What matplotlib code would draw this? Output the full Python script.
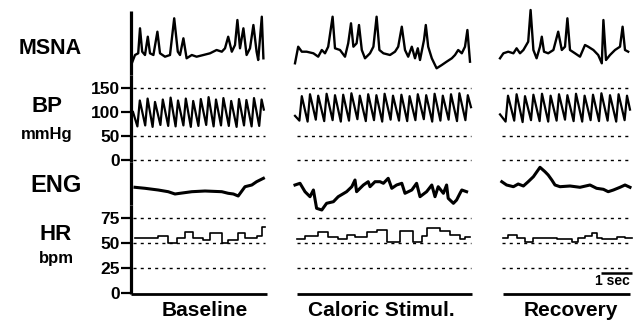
import matplotlib
matplotlib.use('Agg')
import matplotlib.pyplot as plt

plt.rcParams['font.family'] = ['Liberation Sans', 'DejaVu Sans']
plt.rcParams['font.weight'] = 'bold'

# ---------------- data (time in s) ----------------
panel_names = ['Baseline', 'Caloric Stimul.', 'Recovery']
panel_start = [0.05, 4.15, 9.275]
panel_end = [3.35, 8.50, 12.525]
axis_line_start = [0.0, 4.15, 9.30]
axis_line_end = [3.40, 8.525, 12.475]

bp_ticks = [0, 50, 100, 150]
bp_dotted = [0, 50, 150]
hr_ticks = [0, 25, 50, 75]
hr_dotted = [25, 50, 75]

# MSNA (arbitrary units)
msna_base_t = [0.02, 0.10, 0.18, 0.225, 0.28, 0.35, 0.42, 0.475, 0.56, 0.66, 0.725, 0.85, 0.975,
               1.08, 1.17, 1.225, 1.31, 1.39, 1.52, 1.64, 1.81, 1.975, 2.14, 2.27, 2.35, 2.43,
               2.52, 2.60, 2.66, 2.725, 2.81, 2.89, 2.975, 3.06, 3.14, 3.18, 3.27, 3.31]
msna_base_v = [11.7, 20, 21.7, 46.7, 23.3, 20, 38.3, 21.7, 20, 43.3, 21.7, 18.3, 20,
               56.7, 23.3, 20, 36.7, 16.7, 20, 18.3, 20, 21.7, 25, 23.3, 26.7, 38.3,
               23.3, 30, 55, 26.7, 46.7, 20, 26.7, 50, 23.3, 15, 58.3, 16.7]
msna_cal_t = [4.10, 4.18, 4.27, 4.39, 4.56, 4.68, 4.77, 4.85, 4.93, 5.04, 5.10, 5.225, 5.35,
              5.43, 5.50, 5.56, 5.64, 5.70, 5.77, 5.85, 5.975, 6.06, 6.14, 6.21, 6.31, 6.475,
              6.60, 6.68, 6.77, 6.85, 6.93, 7.02, 7.10, 7.17, 7.225, 7.325, 7.37, 7.43, 7.52,
              7.64, 7.77, 7.89, 8.02, 8.10, 8.18, 8.27, 8.35, 8.41, 8.475]
msna_cal_v = [11.7, 28.3, 23.3, 23.3, 21.7, 18.3, 25, 21.7, 28.3, 58.3, 26.7, 25, 18.3,
              31.7, 51.7, 28.3, 31.7, 50, 25, 16.7, 21.7, 28.3, 58.3, 25, 21.7, 20,
              23.3, 28.3, 48.3, 25, 18.3, 28.3, 16.7, 26.7, 15, 35, 50, 28.3, 16.7,
              6.7, 10, 13.3, 16.7, 20, 25, 21.7, 28.3, 45, 13.3]
msna_rec_t = [9.225, 9.31, 9.43, 9.56, 9.64, 9.725, 9.81, 9.93, 9.99, 10.06, 10.14, 10.225,
              10.27, 10.325, 10.43, 10.56, 10.68, 10.77, 10.85, 10.91, 10.975, 11.10, 11.225,
              11.35, 11.43, 11.56, 11.68, 11.77, 11.81, 11.875, 11.975, 12.10, 12.225, 12.29,
              12.35, 12.43]
msna_rec_v = [16.7, 21.7, 23.3, 21.7, 26.7, 21.7, 25, 33.3, 65, 25, 16.7, 28.3,
              38.3, 23.3, 21.7, 25, 43.3, 25, 28.3, 56.7, 25, 21.7, 18.3,
              30, 28.3, 25, 20, 11.7, 55, 15, 20, 25, 28.3, 48.3,
              25, 23.3]

# BP (mmHg): systolic peak times, systolic and diastolic values per beat
bp_base_pk_t = [0.22, 0.415, 0.60, 0.795, 0.99, 1.175, 1.37, 1.555, 1.745, 1.94, 2.125, 2.31,
                2.505, 2.70, 2.885, 3.075, 3.265]
bp_base_sys = [124, 128, 121, 126, 130, 124, 128, 123, 127, 131, 126, 129, 123, 127, 125, 129, 126]
bp_base_dia = [70, 72, 69, 73, 71, 70, 72, 69, 71, 73, 70, 72, 71, 69, 72, 70, 71]
bp_cal_pk_t = [4.27, 4.475, 4.68, 4.89, 5.10, 5.305, 5.51, 5.72, 5.93, 6.135, 6.34, 6.55, 6.76,
               6.965, 7.17, 7.38, 7.59, 7.795, 8.00, 8.21, 8.42]
bp_cal_sys = [133, 137, 134, 138, 135, 136, 139, 134, 137, 135, 138, 134, 136, 133, 137, 135,
              138, 134, 137, 139, 135]
bp_cal_dia = [82, 80, 84, 81, 83, 80, 82, 85, 81, 83, 80, 84, 82, 81, 83, 85, 80, 82, 84, 81, 83]
bp_rec_pk_t = [9.425, 9.64, 9.85, 10.06, 10.275, 10.49, 10.70, 10.91, 11.125, 11.34, 11.55,
               11.76, 11.975, 12.19, 12.40]
bp_rec_sys = [134, 137, 133, 136, 138, 134, 137, 135, 138, 134, 136, 139, 135, 137, 134]
bp_rec_dia = [80, 82, 79, 83, 81, 80, 82, 84, 81, 80, 83, 81, 82, 80, 83]
bp_start = [(0.05, 100), (4.10, 92), (9.225, 95)]
bp_end = [(3.32, 105), (8.50, 110), (12.475, 105)]

# ENG (arbitrary units)
eng_base_t = [0.10, 0.35, 0.68, 0.93, 1.10, 1.225, 1.52, 1.85, 2.27, 2.43, 2.56, 2.68, 2.85,
              3.02, 3.14, 3.31]
eng_base_v = [17.7, 16.7, 15, 13.3, 11, 11.7, 13.3, 14, 13.3, 11.7, 11, 9, 18.3, 20, 23.3, 26.7]
eng_cal_t = [4.10, 4.225, 4.35, 4.475, 4.56, 4.64, 4.77, 4.89, 5.06, 5.18, 5.39, 5.52, 5.60,
             5.64, 5.81, 5.93, 5.975, 6.10, 6.225, 6.31, 6.43, 6.52, 6.64, 6.77, 6.85, 7.02,
             7.14, 7.225, 7.39, 7.52, 7.60, 7.68, 7.81, 7.89, 7.93, 8.06, 8.14, 8.225, 8.27, 8.39]
eng_cal_v = [20, 21.7, 13.3, 8.3, 15, -3.3, -5, 1.7, 3.3, 8.3, 13.3, 18.3, 25,
             13.3, 20, 23.3, 18.3, 23.3, 23.3, 21.7, 26.7, 16.7, 20, 21.7, 11.7, 15,
             21.7, 8.3, 13.3, 20, 8.3, 18.3, 11.7, 20, 6.7, 1.7, 5, 11.7, 15, 13.3]
eng_rec_t = [9.27, 9.39, 9.56, 9.68, 9.81, 9.93, 10.06, 10.225, 10.35, 10.43, 10.52, 10.60,
             10.725, 10.975, 11.225, 11.475, 11.64, 11.81, 11.93, 12.06, 12.225, 12.35, 12.475]
eng_rec_v = [23.3, 20, 18.3, 21, 19, 23.3, 28.3, 37.7, 33.3, 30, 25, 20,
             18.3, 19, 17.7, 20, 16.7, 15.7, 13.3, 15, 17.7, 20, 17.7]

# HR (bpm), step changes
hr_base_t = [0.10, 0.675, 0.925, 1.15, 1.35, 1.55, 1.80, 1.975, 2.275, 2.425, 2.675, 2.85, 3.15, 3.275, 3.35]
hr_base_v = [55, 57, 50, 55, 61, 55, 53, 60, 50, 53, 60, 55, 57, 66, 66]
hr_cal_t = [4.15, 4.35, 4.675, 4.925, 5.175, 5.40, 5.60, 5.90, 6.15, 6.40, 6.725, 7.05, 7.275,
            7.40, 7.725, 7.975, 8.225, 8.35, 8.475]
hr_cal_v = [54, 57, 61, 56, 54, 58, 56, 61, 63, 51, 62, 51, 57, 65, 62, 58, 54, 56, 56]
hr_rec_t = [9.30, 9.425, 9.65, 9.85, 10.05, 10.65, 11.025, 11.175, 11.35, 11.525, 11.65, 11.775,
            12.15, 12.35, 12.525]
hr_rec_v = [55, 58, 55, 51, 55, 54, 51, 55, 57, 60, 55, 54, 56, 55, 55]

scale_bar = (11.75, 12.525)

# ---------------- layout ----------------
W, H = 643, 324
fig = plt.figure(figsize=(W / 100, H / 100), dpi=100)
XMAX = (W - 131) / 40.0


def make_axes(top, bottom, ylim):
    ax = fig.add_axes([131 / W, 1 - bottom / H, (W - 131) / W, (bottom - top) / H])
    ax.set_xlim(0, XMAX)
    ax.set_ylim(*ylim)
    for s in ['top', 'right', 'bottom']:
        ax.spines[s].set_visible(False)
    ax.spines['left'].set_linewidth(2.3)
    ax.spines['left'].set_capstyle('butt')
    ax.set_xticks([])
    ax.patch.set_visible(False)
    ax.tick_params(axis='y', direction='out', length=7, width=1.6, pad=1, labelsize=12.5)
    return ax


ax_msna = make_axes(11, 75, (0, 64))
ax_bp = make_axes(75, 162, (-4.17, 177.08))
ax_eng = make_axes(162, 205, (0, 43))
ax_hr = make_axes(205, 294, (-1, 88))
for ax in (ax_msna, ax_eng):
    ax.set_yticks([])
ax_bp.set_yticks(bp_ticks)
ax_hr.set_yticks(hr_ticks)

dot = dict(color='black', lw=1.0, linestyle=(0, (2.2, 3.0)))

# MSNA
for t, v in [(msna_base_t, msna_base_v), (msna_cal_t, msna_cal_v), (msna_rec_t, msna_rec_v)]:
    ax_msna.plot(t, v, color='black', lw=1.7, clip_on=False, solid_joinstyle='round')

# BP
for (t0, v0), pk, sy, di, (t1, v1) in zip(bp_start,
                                           [bp_base_pk_t, bp_cal_pk_t, bp_rec_pk_t],
                                           [bp_base_sys, bp_cal_sys, bp_rec_sys],
                                           [bp_base_dia, bp_cal_dia, bp_rec_dia], bp_end):
    xs, ys = [t0], [v0]
    for t, s, d in zip(pk, sy, di):
        xs += [t - 0.06, t]
        ys += [d, s]
    xs.append(t1)
    ys.append(v1)
    ax_bp.plot(xs, ys, color='black', lw=1.6, clip_on=False)
for a, b in zip(panel_start, panel_end):
    for lvl in bp_dotted:
        ax_bp.plot([a, b], [lvl, lvl], **dot)

# ENG
for t, v in [(eng_base_t, eng_base_v), (eng_cal_t, eng_cal_v), (eng_rec_t, eng_rec_v)]:
    ax_eng.plot(t, v, color='black', lw=2.2, clip_on=False, solid_joinstyle='round')

# HR
for t, v in [(hr_base_t, hr_base_v), (hr_cal_t, hr_cal_v), (hr_rec_t, hr_rec_v)]:
    ax_hr.step(t, v, where='post', color='black', lw=1.2, clip_on=False)
for a, b in zip(panel_start, panel_end):
    for lvl in hr_dotted:
        ax_hr.plot([a, b], [lvl, lvl], **dot)
for a, b in zip(axis_line_start, axis_line_end):
    ax_hr.plot([a, b], [-0.5, -0.5], color='black', lw=2.0, clip_on=False, solid_capstyle='butt')

# scale bar
ax_hr.plot(list(scale_bar), [20.5, 20.5], color='black', lw=1.8, clip_on=False, solid_capstyle='butt')


def ftext(x, y, s, size):
    fig.text(x / W, 1 - y / H, s, ha='center', va='center', fontsize=size, fontweight='bold')


ftext(50, 49, 'MSNA', 15.5)
ftext(47, 106, 'BP', 16)
ftext(47, 134, 'mmHg', 12)
ftext(56, 186, 'ENG', 17)
ftext(56, 235, 'HR', 16)
ftext(56, 259, 'bpm', 12)
for name, cx in zip(panel_names, [205, 381, 571]):
    ftext(cx, 310, name, 15)
ftext(612, 281, '1 sec', 10)

fig.savefig('out.png', dpi=100)
